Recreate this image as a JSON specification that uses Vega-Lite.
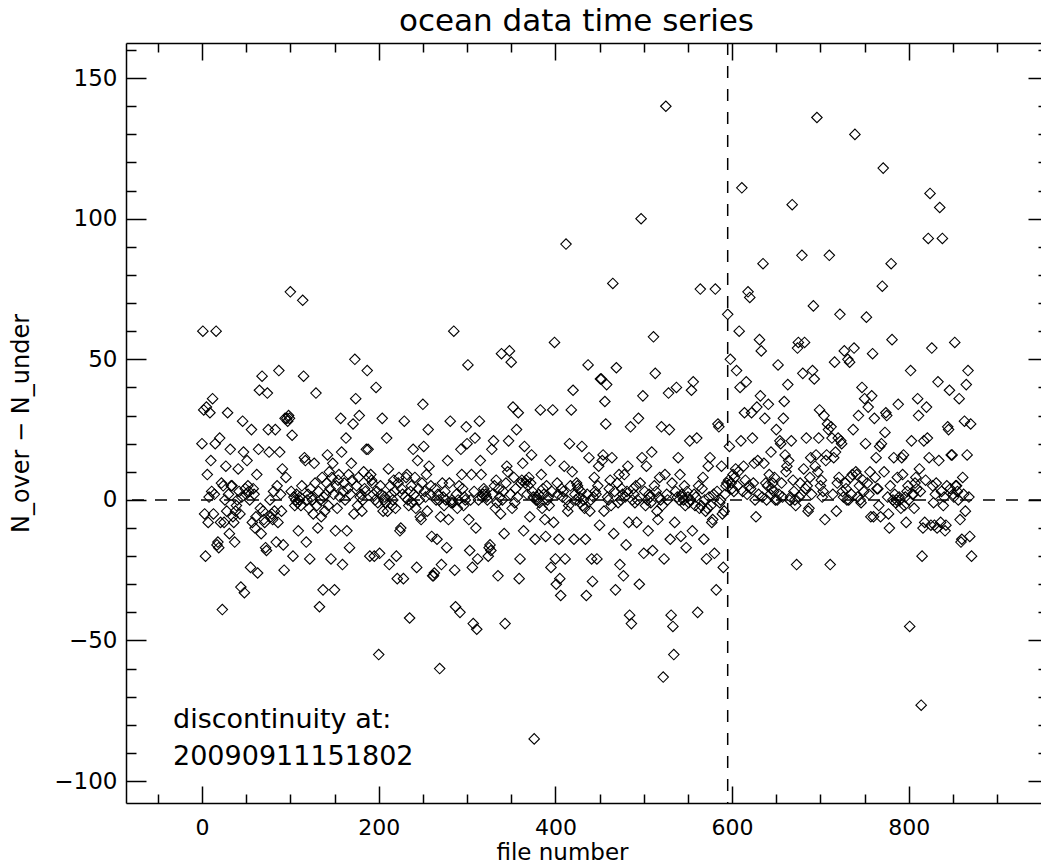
{
  "$schema": "https://vega.github.io/schema/vega-lite/v6.json",
  "width": 915,
  "height": 760,
  "autosize": {"type": "none"},
  "padding": {"left": 126, "top": 43, "right": 0, "bottom": 64},
  "background": "white",
  "config": {"view": {"stroke": null}, "font": "DejaVu Sans"},
  "title": {"text": "ocean data time series", "font": "DejaVu Sans", "fontSize": 31, "fontWeight": "normal", "color": "black", "offset": -23, "dx": -7, "anchor": "middle", "baseline": "alphabetic"},
  "datasets": {
    "pts": [
{"x":0,"y":20},{"x":1,"y":60},{"x":2,"y":32},{"x":3,"y":-5},{"x":4,"y":-20},{"x":5,"y":33},{"x":6,"y":9},{"x":7,"y":-8},{"x":8,"y":1},{"x":9,"y":31},
{"x":10,"y":14},{"x":11,"y":3},{"x":12,"y":36},{"x":13,"y":-5},{"x":14,"y":2},{"x":15,"y":20},{"x":16,"y":60},{"x":17,"y":-16},{"x":18,"y":-15},{"x":19,"y":-17},
{"x":20,"y":22},{"x":21,"y":-8},{"x":22,"y":6},{"x":23,"y":-39},{"x":24,"y":5},{"x":25,"y":-8},{"x":26,"y":0},{"x":27,"y":12},{"x":28,"y":-4},{"x":29,"y":31},
{"x":30,"y":2},{"x":31,"y":-12},{"x":32,"y":18},{"x":33,"y":5},{"x":34,"y":5},{"x":35,"y":-6},{"x":36,"y":-8},{"x":37,"y":-15},{"x":38,"y":-4},{"x":39,"y":-2},
{"x":40,"y":0},{"x":41,"y":11},{"x":42,"y":3},{"x":43,"y":-5},{"x":44,"y":-31},{"x":45,"y":1},{"x":46,"y":28},{"x":47,"y":17},{"x":48,"y":-33},{"x":49,"y":4},
{"x":50,"y":2},{"x":51,"y":14},{"x":52,"y":5},{"x":53,"y":3},{"x":54,"y":0},{"x":55,"y":-24},{"x":56,"y":25},{"x":57,"y":-8},{"x":58,"y":4},{"x":59,"y":2},
{"x":60,"y":-10},{"x":61,"y":-6},{"x":62,"y":9},{"x":63,"y":-26},{"x":64,"y":18},{"x":65,"y":39},{"x":66,"y":-3},{"x":67,"y":-12},{"x":68,"y":44},{"x":69,"y":-4},
{"x":70,"y":-7},{"x":71,"y":-8},{"x":72,"y":-17},{"x":73,"y":-18},{"x":74,"y":38},{"x":75,"y":25},{"x":76,"y":17},{"x":77,"y":0},{"x":78,"y":-6},{"x":79,"y":-5},
{"x":80,"y":-7},{"x":81,"y":3},{"x":82,"y":-4},{"x":83,"y":25},{"x":84,"y":-15},{"x":85,"y":5},{"x":86,"y":-8},{"x":87,"y":46},{"x":88,"y":17},{"x":89,"y":2},
{"x":90,"y":-4},{"x":91,"y":11},{"x":92,"y":-16},{"x":93,"y":-25},{"x":94,"y":29},{"x":95,"y":8},{"x":96,"y":29},{"x":97,"y":28},{"x":98,"y":30},{"x":99,"y":29},
{"x":100,"y":74},{"x":101,"y":3},{"x":102,"y":23},{"x":103,"y":-20},{"x":104,"y":1},{"x":105,"y":-2},{"x":106,"y":0},{"x":107,"y":2},{"x":108,"y":-1},{"x":109,"y":-11},
{"x":110,"y":0},{"x":111,"y":1},{"x":112,"y":-2},{"x":113,"y":5},{"x":114,"y":71},{"x":115,"y":44},{"x":116,"y":15},{"x":117,"y":14},{"x":118,"y":-15},{"x":119,"y":0},
{"x":120,"y":2},{"x":121,"y":-3},{"x":122,"y":-21},{"x":123,"y":4},{"x":124,"y":1},{"x":125,"y":0},{"x":126,"y":-5},{"x":127,"y":13},{"x":128,"y":6},{"x":129,"y":38},
{"x":130,"y":-2},{"x":131,"y":-10},{"x":132,"y":3},{"x":133,"y":-38},{"x":134,"y":0},{"x":135,"y":-6},{"x":136,"y":8},{"x":137,"y":-32},{"x":138,"y":1},{"x":139,"y":-4},
{"x":140,"y":2},{"x":141,"y":6},{"x":142,"y":16},{"x":143,"y":-2},{"x":144,"y":10},{"x":145,"y":4},{"x":146,"y":-21},{"x":147,"y":8},{"x":148,"y":13},{"x":149,"y":2},
{"x":150,"y":-32},{"x":151,"y":-11},{"x":152,"y":5},{"x":153,"y":-3},{"x":154,"y":7},{"x":155,"y":9},{"x":156,"y":1},{"x":157,"y":29},{"x":158,"y":17},{"x":159,"y":-23},
{"x":160,"y":3},{"x":161,"y":6},{"x":162,"y":0},{"x":163,"y":22},{"x":164,"y":-11},{"x":165,"y":4},{"x":166,"y":9},{"x":167,"y":-17},{"x":168,"y":2},{"x":169,"y":13},
{"x":170,"y":7},{"x":171,"y":27},{"x":172,"y":-5},{"x":173,"y":50},{"x":174,"y":36},{"x":175,"y":5},{"x":176,"y":-2},{"x":177,"y":8},{"x":178,"y":30},{"x":179,"y":1},
{"x":180,"y":2},{"x":181,"y":-4},{"x":182,"y":0},{"x":183,"y":10},{"x":184,"y":4},{"x":185,"y":3},{"x":186,"y":18},{"x":187,"y":46},{"x":188,"y":18},{"x":189,"y":8},
{"x":190,"y":-20},{"x":191,"y":9},{"x":192,"y":7},{"x":193,"y":6},{"x":194,"y":2},{"x":195,"y":-20},{"x":196,"y":0},{"x":197,"y":40},{"x":198,"y":3},{"x":199,"y":-1},
{"x":200,"y":-55},{"x":201,"y":-19},{"x":202,"y":5},{"x":203,"y":2},{"x":204,"y":29},{"x":205,"y":-4},{"x":206,"y":0},{"x":207,"y":1},{"x":208,"y":-1},{"x":209,"y":22},
{"x":210,"y":-4},{"x":211,"y":11},{"x":212,"y":-23},{"x":213,"y":5},{"x":214,"y":2},{"x":215,"y":-2},{"x":216,"y":0},{"x":217,"y":7},{"x":218,"y":3},{"x":219,"y":-3},
{"x":220,"y":-20},{"x":221,"y":-28},{"x":222,"y":6},{"x":223,"y":8},{"x":224,"y":-11},{"x":225,"y":-10},{"x":226,"y":4},{"x":227,"y":2},{"x":228,"y":-28},{"x":229,"y":28},
{"x":230,"y":1},{"x":231,"y":8},{"x":232,"y":9},{"x":233,"y":0},{"x":234,"y":-2},{"x":235,"y":-42},{"x":236,"y":3},{"x":237,"y":5},{"x":238,"y":-1},{"x":239,"y":18},
{"x":240,"y":2},{"x":241,"y":8},{"x":242,"y":-3},{"x":243,"y":-24},{"x":244,"y":14},{"x":245,"y":4},{"x":246,"y":0},{"x":247,"y":-6},{"x":248,"y":-7},{"x":249,"y":6},
{"x":250,"y":34},{"x":251,"y":19},{"x":252,"y":3},{"x":253,"y":1},{"x":254,"y":9},{"x":255,"y":-4},{"x":256,"y":25},{"x":257,"y":12},{"x":258,"y":2},{"x":259,"y":5},
{"x":260,"y":-13},{"x":261,"y":-27},{"x":262,"y":-27},{"x":263,"y":-26},{"x":264,"y":4},{"x":265,"y":0},{"x":266,"y":-14},{"x":267,"y":2},{"x":268,"y":0},{"x":269,"y":-60},
{"x":270,"y":-6},{"x":271,"y":-23},{"x":272,"y":6},{"x":273,"y":1},{"x":274,"y":-2},{"x":275,"y":3},{"x":276,"y":0},{"x":277,"y":-17},{"x":278,"y":14},{"x":279,"y":-7},
{"x":280,"y":6},{"x":281,"y":28},{"x":282,"y":-1},{"x":283,"y":0},{"x":284,"y":-1},{"x":285,"y":60},{"x":286,"y":-25},{"x":287,"y":-38},{"x":288,"y":2},{"x":289,"y":-3},
{"x":290,"y":0},{"x":291,"y":5},{"x":292,"y":-40},{"x":293,"y":18},{"x":294,"y":9},{"x":295,"y":4},{"x":296,"y":-2},{"x":297,"y":1},{"x":298,"y":0},{"x":299,"y":26},
{"x":300,"y":20},{"x":301,"y":48},{"x":302,"y":-7},{"x":303,"y":-18},{"x":304,"y":0},{"x":305,"y":9},{"x":306,"y":-24},{"x":307,"y":-44},{"x":308,"y":3},{"x":309,"y":22},
{"x":310,"y":-10},{"x":311,"y":-46},{"x":312,"y":-21},{"x":313,"y":0},{"x":314,"y":28},{"x":315,"y":14},{"x":316,"y":9},{"x":317,"y":1},{"x":318,"y":2},{"x":319,"y":4},
{"x":320,"y":3},{"x":321,"y":2},{"x":322,"y":1},{"x":323,"y":0},{"x":324,"y":-20},{"x":325,"y":-17},{"x":326,"y":-16},{"x":327,"y":-18},{"x":328,"y":18},{"x":329,"y":2},
{"x":330,"y":21},{"x":331,"y":5},{"x":332,"y":-3},{"x":333,"y":7},{"x":334,"y":-1},{"x":335,"y":-27},{"x":336,"y":4},{"x":337,"y":1},{"x":338,"y":-5},{"x":339,"y":52},
{"x":340,"y":0},{"x":341,"y":3},{"x":342,"y":-12},{"x":343,"y":-44},{"x":344,"y":6},{"x":345,"y":12},{"x":346,"y":10},{"x":347,"y":21},{"x":348,"y":53},{"x":349,"y":2},
{"x":350,"y":49},{"x":351,"y":-3},{"x":352,"y":33},{"x":353,"y":8},{"x":354,"y":-1},{"x":355,"y":4},{"x":356,"y":25},{"x":357,"y":1},{"x":358,"y":31},{"x":359,"y":-28},
{"x":360,"y":-21},{"x":361,"y":6},{"x":362,"y":7},{"x":363,"y":13},{"x":364,"y":-11},{"x":365,"y":19},{"x":366,"y":6},{"x":367,"y":7},{"x":368,"y":2},{"x":369,"y":5},
{"x":370,"y":8},{"x":371,"y":-6},{"x":372,"y":6},{"x":373,"y":16},{"x":374,"y":3},{"x":375,"y":1},{"x":376,"y":-85},{"x":377,"y":-14},{"x":378,"y":0},{"x":379,"y":1},
{"x":380,"y":0},{"x":381,"y":2},{"x":382,"y":-1},{"x":383,"y":32},{"x":384,"y":9},{"x":385,"y":-3},{"x":386,"y":4},{"x":387,"y":2},{"x":388,"y":-7},{"x":389,"y":-13},
{"x":390,"y":5},{"x":391,"y":0},{"x":392,"y":1},{"x":393,"y":-2},{"x":394,"y":14},{"x":395,"y":-24},{"x":396,"y":3},{"x":397,"y":32},{"x":398,"y":-8},{"x":399,"y":56},
{"x":400,"y":-21},{"x":401,"y":-30},{"x":402,"y":6},{"x":403,"y":2},{"x":404,"y":-14},{"x":405,"y":-28},{"x":406,"y":-34},{"x":407,"y":4},{"x":408,"y":1},{"x":409,"y":3},
{"x":410,"y":12},{"x":411,"y":-21},{"x":412,"y":91},{"x":413,"y":0},{"x":414,"y":-4},{"x":415,"y":-2},{"x":416,"y":20},{"x":417,"y":5},{"x":418,"y":32},{"x":419,"y":10},
{"x":420,"y":39},{"x":421,"y":-14},{"x":422,"y":2},{"x":423,"y":0},{"x":424,"y":6},{"x":425,"y":5},{"x":426,"y":4},{"x":427,"y":1},{"x":428,"y":-1},{"x":429,"y":3},
{"x":430,"y":19},{"x":431,"y":-2},{"x":432,"y":0},{"x":433,"y":-3},{"x":434,"y":-14},{"x":435,"y":-34},{"x":436,"y":2},{"x":437,"y":48},{"x":438,"y":15},{"x":439,"y":-4},
{"x":440,"y":0},{"x":441,"y":-21},{"x":442,"y":-29},{"x":443,"y":1},{"x":444,"y":8},{"x":445,"y":3},{"x":446,"y":2},{"x":447,"y":-21},{"x":448,"y":5},{"x":449,"y":12},
{"x":450,"y":-9},{"x":451,"y":43},{"x":452,"y":43},{"x":453,"y":14},{"x":454,"y":16},{"x":455,"y":-4},{"x":456,"y":35},{"x":457,"y":27},{"x":458,"y":41},{"x":459,"y":1},
{"x":460,"y":0},{"x":461,"y":4},{"x":462,"y":7},{"x":463,"y":-2},{"x":464,"y":15},{"x":465,"y":77},{"x":466,"y":-12},{"x":467,"y":3},{"x":468,"y":-32},{"x":469,"y":47},
{"x":470,"y":6},{"x":471,"y":-1},{"x":472,"y":9},{"x":473,"y":-23},{"x":474,"y":0},{"x":475,"y":4},{"x":476,"y":2},{"x":477,"y":-27},{"x":478,"y":9},{"x":479,"y":1},
{"x":480,"y":-16},{"x":481,"y":3},{"x":482,"y":12},{"x":483,"y":-8},{"x":484,"y":-41},{"x":485,"y":26},{"x":486,"y":-44},{"x":487,"y":0},{"x":488,"y":4},{"x":489,"y":2},
{"x":490,"y":-1},{"x":491,"y":5},{"x":492,"y":-8},{"x":493,"y":0},{"x":494,"y":29},{"x":495,"y":-30},{"x":496,"y":6},{"x":497,"y":100},{"x":498,"y":15},{"x":499,"y":37},
{"x":500,"y":-19},{"x":501,"y":3},{"x":502,"y":-2},{"x":503,"y":12},{"x":504,"y":0},{"x":505,"y":-11},{"x":506,"y":2},{"x":507,"y":1},{"x":508,"y":-1},{"x":509,"y":17},
{"x":510,"y":-18},{"x":511,"y":58},{"x":512,"y":5},{"x":513,"y":45},{"x":514,"y":3},{"x":515,"y":-4},{"x":516,"y":-7},{"x":517,"y":1},{"x":518,"y":8},{"x":519,"y":0},
{"x":520,"y":26},{"x":521,"y":-2},{"x":522,"y":-63},{"x":523,"y":-21},{"x":524,"y":9},{"x":525,"y":140},{"x":526,"y":2},{"x":527,"y":0},{"x":528,"y":38},{"x":529,"y":25},
{"x":530,"y":-14},{"x":531,"y":-41},{"x":532,"y":6},{"x":533,"y":-45},{"x":534,"y":-55},{"x":535,"y":-8},{"x":536,"y":3},{"x":537,"y":40},{"x":538,"y":1},{"x":539,"y":15},
{"x":540,"y":0},{"x":541,"y":9},{"x":542,"y":-13},{"x":543,"y":2},{"x":544,"y":1},{"x":545,"y":0},{"x":546,"y":5},{"x":547,"y":-2},{"x":548,"y":-17},{"x":549,"y":3},
{"x":550,"y":1},{"x":551,"y":-1},{"x":552,"y":21},{"x":553,"y":0},{"x":554,"y":39},{"x":555,"y":-11},{"x":556,"y":42},{"x":557,"y":2},{"x":558,"y":-2},{"x":559,"y":1},
{"x":560,"y":22},{"x":561,"y":-40},{"x":562,"y":5},{"x":563,"y":-3},{"x":564,"y":75},{"x":565,"y":-2},{"x":566,"y":4},{"x":567,"y":8},{"x":568,"y":-14},{"x":569,"y":0},
{"x":570,"y":-4},{"x":571,"y":-21},{"x":572,"y":-3},{"x":573,"y":12},{"x":574,"y":1},{"x":575,"y":15},{"x":576,"y":-2},{"x":577,"y":-8},{"x":578,"y":-7},{"x":579,"y":2},
{"x":580,"y":-19},{"x":581,"y":75},{"x":582,"y":-32},{"x":583,"y":3},{"x":584,"y":27},{"x":585,"y":26},{"x":586,"y":-1},{"x":587,"y":0},{"x":588,"y":12},{"x":589,"y":-5},
{"x":590,"y":-24},{"x":591,"y":-4},{"x":592,"y":2},{"x":593,"y":5},{"x":594,"y":6},{"x":595,"y":66},{"x":596,"y":7},{"x":597,"y":19},{"x":598,"y":50},{"x":599,"y":6},
{"x":600,"y":4},{"x":601,"y":9},{"x":602,"y":3},{"x":603,"y":8},{"x":604,"y":11},{"x":605,"y":46},{"x":606,"y":5},{"x":607,"y":10},{"x":608,"y":60},{"x":609,"y":40},
{"x":610,"y":21},{"x":611,"y":111},{"x":612,"y":3},{"x":613,"y":12},{"x":614,"y":31},{"x":615,"y":7},{"x":616,"y":42},{"x":617,"y":2},{"x":618,"y":74},{"x":619,"y":5},
{"x":620,"y":72},{"x":621,"y":4},{"x":622,"y":31},{"x":623,"y":22},{"x":624,"y":6},{"x":625,"y":13},{"x":626,"y":0},{"x":627,"y":-6},{"x":628,"y":33},{"x":629,"y":14},
{"x":630,"y":2},{"x":631,"y":57},{"x":632,"y":37},{"x":633,"y":53},{"x":634,"y":1},{"x":635,"y":84},{"x":636,"y":13},{"x":637,"y":29},{"x":638,"y":6},{"x":639,"y":0},
{"x":640,"y":5},{"x":641,"y":34},{"x":642,"y":9},{"x":643,"y":2},{"x":644,"y":17},{"x":645,"y":4},{"x":646,"y":6},{"x":647,"y":3},{"x":648,"y":8},{"x":649,"y":0},
{"x":650,"y":25},{"x":651,"y":0},{"x":652,"y":48},{"x":653,"y":2},{"x":654,"y":21},{"x":655,"y":20},{"x":656,"y":6},{"x":657,"y":1},{"x":658,"y":29},{"x":659,"y":35},
{"x":660,"y":16},{"x":661,"y":10},{"x":662,"y":12},{"x":663,"y":41},{"x":664,"y":14},{"x":665,"y":0},{"x":666,"y":1},{"x":667,"y":21},{"x":668,"y":105},{"x":669,"y":7},
{"x":670,"y":3},{"x":671,"y":0},{"x":672,"y":-2},{"x":673,"y":-23},{"x":674,"y":54},{"x":675,"y":56},{"x":676,"y":1},{"x":677,"y":6},{"x":678,"y":2},{"x":679,"y":87},
{"x":680,"y":45},{"x":681,"y":11},{"x":682,"y":56},{"x":683,"y":4},{"x":684,"y":22},{"x":685,"y":5},{"x":686,"y":-4},{"x":687,"y":-3},{"x":688,"y":8},{"x":689,"y":15},
{"x":690,"y":2},{"x":691,"y":46},{"x":692,"y":69},{"x":693,"y":43},{"x":694,"y":12},{"x":695,"y":16},{"x":696,"y":136},{"x":697,"y":10},{"x":698,"y":22},{"x":699,"y":32},
{"x":700,"y":5},{"x":701,"y":7},{"x":702,"y":1},{"x":703,"y":3},{"x":704,"y":30},{"x":705,"y":-7},{"x":706,"y":14},{"x":707,"y":16},{"x":708,"y":27},{"x":709,"y":25},
{"x":710,"y":87},{"x":711,"y":-23},{"x":712,"y":26},{"x":713,"y":22},{"x":714,"y":2},{"x":715,"y":15},{"x":716,"y":49},{"x":717,"y":17},{"x":718,"y":-4},{"x":719,"y":6},
{"x":720,"y":22},{"x":721,"y":8},{"x":722,"y":66},{"x":723,"y":21},{"x":724,"y":20},{"x":725,"y":3},{"x":726,"y":1},{"x":727,"y":53},{"x":728,"y":6},{"x":729,"y":4},
{"x":730,"y":0},{"x":731,"y":50},{"x":732,"y":0},{"x":733,"y":49},{"x":734,"y":8},{"x":735,"y":2},{"x":736,"y":9},{"x":737,"y":25},{"x":738,"y":54},{"x":739,"y":130},
{"x":740,"y":10},{"x":741,"y":9},{"x":742,"y":1},{"x":743,"y":30},{"x":744,"y":5},{"x":745,"y":0},{"x":746,"y":-1},{"x":747,"y":40},{"x":748,"y":7},{"x":749,"y":3},
{"x":750,"y":36},{"x":751,"y":20},{"x":752,"y":65},{"x":753,"y":6},{"x":754,"y":33},{"x":755,"y":2},{"x":756,"y":10},{"x":757,"y":-6},{"x":758,"y":37},{"x":759,"y":52},
{"x":760,"y":-6},{"x":761,"y":29},{"x":762,"y":8},{"x":763,"y":15},{"x":764,"y":4},{"x":765,"y":4},{"x":766,"y":-2},{"x":767,"y":19},{"x":768,"y":-6},{"x":769,"y":20},
{"x":770,"y":76},{"x":771,"y":118},{"x":772,"y":10},{"x":773,"y":24},{"x":774,"y":31},{"x":775,"y":30},{"x":776,"y":1},{"x":777,"y":-5},{"x":778,"y":-10},{"x":779,"y":5},
{"x":780,"y":84},{"x":781,"y":57},{"x":782,"y":0},{"x":783,"y":15},{"x":784,"y":2},{"x":785,"y":-1},{"x":786,"y":0},{"x":787,"y":8},{"x":788,"y":34},{"x":789,"y":1},
{"x":790,"y":0},{"x":791,"y":-3},{"x":792,"y":15},{"x":793,"y":9},{"x":794,"y":16},{"x":795,"y":-2},{"x":796,"y":1},{"x":797,"y":-8},{"x":798,"y":3},{"x":799,"y":5},
{"x":800,"y":0},{"x":801,"y":-45},{"x":802,"y":46},{"x":803,"y":21},{"x":804,"y":2},{"x":805,"y":2},{"x":806,"y":-3},{"x":807,"y":6},{"x":808,"y":8},{"x":809,"y":4},
{"x":810,"y":36},{"x":811,"y":30},{"x":812,"y":11},{"x":813,"y":3},{"x":814,"y":-73},{"x":815,"y":-20},{"x":816,"y":-10},{"x":817,"y":21},{"x":818,"y":-8},{"x":819,"y":7},
{"x":820,"y":33},{"x":821,"y":22},{"x":822,"y":93},{"x":823,"y":15},{"x":824,"y":109},{"x":825,"y":-9},{"x":826,"y":54},{"x":827,"y":5},{"x":828,"y":-1},{"x":829,"y":-9},
{"x":830,"y":2},{"x":831,"y":6},{"x":832,"y":-10},{"x":833,"y":42},{"x":834,"y":14},{"x":835,"y":104},{"x":836,"y":-8},{"x":837,"y":3},{"x":838,"y":93},{"x":839,"y":-2},
{"x":840,"y":1},{"x":841,"y":-11},{"x":842,"y":-9},{"x":843,"y":5},{"x":844,"y":26},{"x":845,"y":25},{"x":846,"y":39},{"x":847,"y":4},{"x":848,"y":16},{"x":849,"y":16},
{"x":850,"y":2},{"x":851,"y":1},{"x":852,"y":56},{"x":853,"y":5},{"x":854,"y":5},{"x":855,"y":3},{"x":856,"y":0},{"x":857,"y":36},{"x":858,"y":-7},{"x":859,"y":-15},
{"x":860,"y":-14},{"x":861,"y":8},{"x":862,"y":2},{"x":863,"y":28},{"x":864,"y":-4},{"x":865,"y":41},{"x":866,"y":16},{"x":867,"y":46},{"x":868,"y":1},{"x":869,"y":-13},
{"x":870,"y":27},{"x":871,"y":-20}
    ]
  },
  "layer": [
    {
      "data": {"name": "pts"},
      "mark": {"type": "point", "shape": "diamond", "filled": false, "size": 110, "stroke": "black", "strokeWidth": 1.1, "opacity": 1},
      "encoding": {
        "x": {"field": "x", "type": "quantitative",
          "scale": {"domain": [-86, 949.6], "nice": false, "zero": false},
          "axis": {"orient": "bottom", "values": [-50,0,50,100,150,200,250,300,350,400,450,500,550,600,650,700,750,800,850,900],
            "tickSize": {"condition": {"test": "datum.value % 200 === 0", "value": -17}, "value": -9},
            "labelExpr": "datum.value % 200 === 0 ? datum.label : ''",
            "grid": false, "domain": true, "domainColor": "black", "domainWidth": 1.5, "tickColor": "black", "tickWidth": 1.5,
            "labelFont": "DejaVu Sans", "labelFontSize": 22, "labelColor": "black", "labelPadding": 31, "labelOverlap": false, "labelFlush": false,
            "title": "file number", "titleFont": "DejaVu Sans", "titleFontSize": 23, "titleFontWeight": "normal", "titleColor": "black", "titlePadding": -5, "titleX": 436}},
        "y": {"field": "y", "type": "quantitative",
          "scale": {"domain": [-107.8, 162.5], "nice": false, "zero": false},
          "axis": {"orient": "left", "values": [-100,-90,-80,-70,-60,-50,-40,-30,-20,-10,0,10,20,30,40,50,60,70,80,90,100,110,120,130,140,150,160],
            "tickSize": {"condition": {"test": "datum.value % 50 === 0", "value": -20}, "value": -10},
            "labelExpr": "datum.value % 50 === 0 ? datum.label : ''",
            "grid": false, "domain": true, "domainColor": "black", "domainWidth": 1.5, "tickColor": "black", "tickWidth": 1.5,
            "labelFont": "DejaVu Sans", "labelFontSize": 23, "labelColor": "black", "labelPadding": 29, "labelOverlap": false, "labelFlush": false,
            "title": "N_over − N_under", "titleFont": "DejaVu Sans", "titleFontSize": 24, "titleFontWeight": "normal", "titleColor": "black", "titlePadding": 20}}
      }
    },
    {
      "data": {"values": [{"v": 0}]},
      "mark": {"type": "rule", "strokeDash": [12, 11], "stroke": "black", "strokeWidth": 1.5},
      "encoding": {"y": {"field": "v", "type": "quantitative", "scale": {"domain": [-107.8, 162.5], "nice": false, "zero": false}, "axis": null}}
    },
    {
      "data": {"values": [{"d": 595}]},
      "mark": {"type": "rule", "strokeDash": [12, 11], "stroke": "black", "strokeWidth": 1.5},
      "encoding": {"x": {"field": "d", "type": "quantitative", "scale": {"domain": [-86, 949.6], "nice": false, "zero": false}, "axis": null}}
    },
    {
      "data": {"values": [{"tx": -32.8, "ty": -81.1, "label": "discontinuity at:"}, {"tx": -32.8, "ty": -94.3, "label": "20090911151802"}]},
      "mark": {"type": "text", "align": "left", "baseline": "alphabetic", "font": "DejaVu Sans", "fontSize": 27, "color": "black"},
      "encoding": {
        "x": {"field": "tx", "type": "quantitative", "scale": {"domain": [-86, 949.6], "nice": false, "zero": false},
          "axis": {"orient": "top", "values": [-50,0,50,100,150,200,250,300,350,400,450,500,550,600,650,700,750,800,850,900],
            "tickSize": {"condition": {"test": "datum.value % 200 === 0", "value": -17}, "value": -9},
            "labels": false, "title": null, "grid": false, "domain": true, "domainColor": "black", "domainWidth": 1.5, "tickColor": "black", "tickWidth": 1.5}},
        "y": {"field": "ty", "type": "quantitative", "scale": {"domain": [-107.8, 162.5], "nice": false, "zero": false},
          "axis": {"orient": "right", "offset": 7, "values": [-100,-90,-80,-70,-60,-50,-40,-30,-20,-10,0,10,20,30,40,50,60,70,80,90,100,110,120,130,140,150,160],
            "tickSize": {"condition": {"test": "datum.value % 50 === 0", "value": -20}, "value": -10},
            "labels": false, "title": null, "grid": false, "domain": false, "tickColor": "black", "tickWidth": 1.5}},
        "text": {"field": "label"}
      }
    }
  ],
  "resolve": {"axis": {"x": "independent", "y": "independent"}}
}
